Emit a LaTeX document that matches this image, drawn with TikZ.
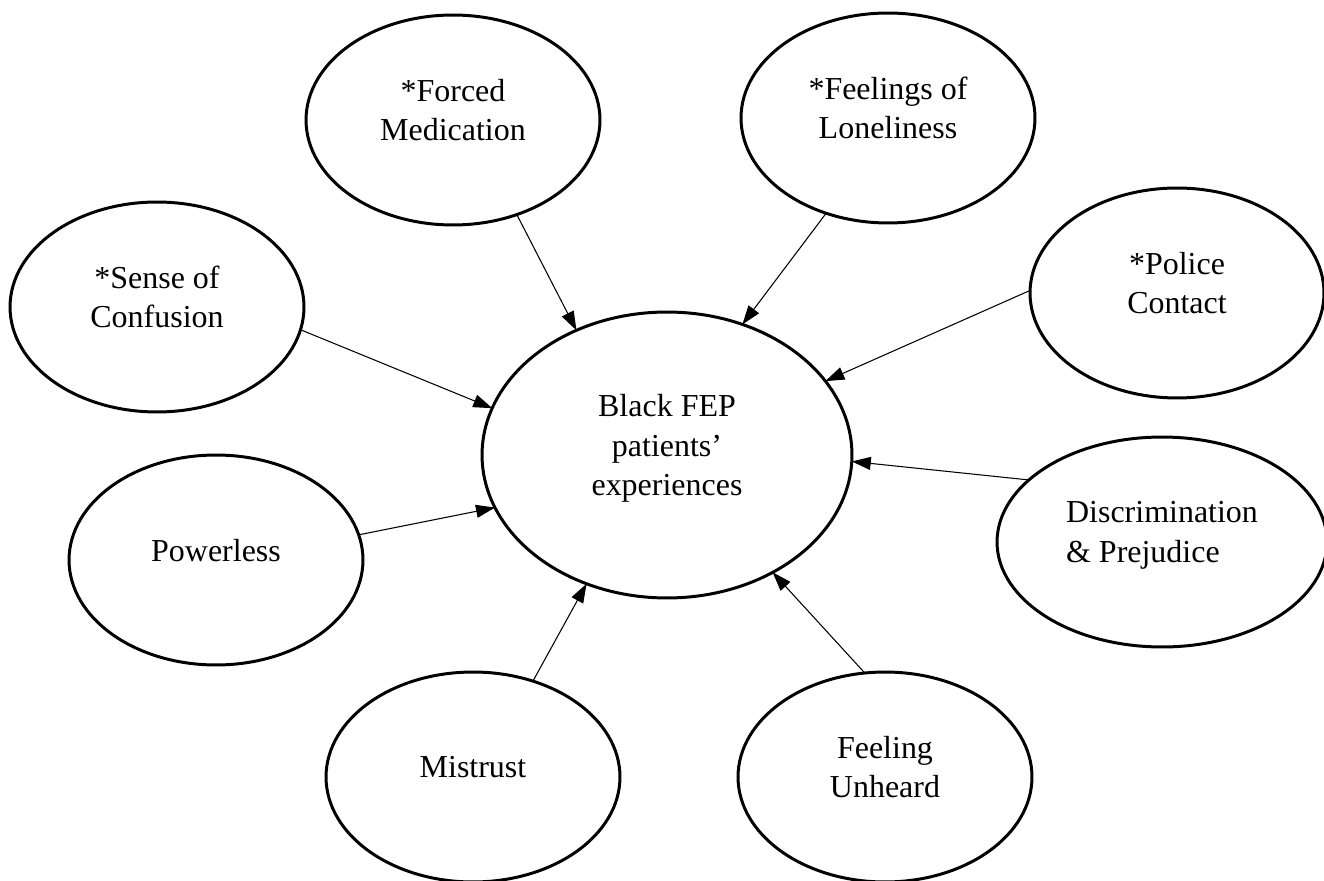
\documentclass[tikz,border=0pt]{standalone}
\usepackage{fontspec}
\setmainfont{Liberation Serif}
\usetikzlibrary{shapes.geometric, arrows.meta, positioning}
\tikzset{
  bubble/.style={
    ellipse, draw, line width=1.7pt, minimum width=5.88cm,
    minimum height=4.2cm, inner sep=0pt, outer sep=0pt, align=center,
    text depth=0.4cm, font=\fontsize{18.2}{22.4}\selectfont
  },
  hub/.style={bubble, minimum width=7.4cm, minimum height=5.72cm},
  wide/.style={bubble, minimum width=6.6cm, align=left},
  arr/.style={-{Triangle[length=0.38cm, width=0.26cm]}, line width=0.6pt}
}

\begin{document}
\begin{tikzpicture}[x=0.02cm, y=-0.02cm]
  \useasboundingbox (0,0) rectangle (1324,881);

  \node[hub] (exp) at (667,455) {Black FEP\\patients'\\experiences};

  \node[bubble] (force)    at (453,120)  {*Forced\\Medication};
  \node[bubble] (lonely)   at (888,118)  {*Feelings of\\Loneliness};
  \node[bubble] (confuse)  at (157,307)  {*Sense of\\Confusion};
  \node[bubble] (police)   at (1177,293) {*Police\\Contact};
  \node[bubble] (power)    at (216,560)  {Powerless};
  \node[wide]   (discrim)  at (1162,542) {Discrimination\\\& Prejudice};
  \node[bubble] (mistrust) at (473,777)  {Mistrust};
  \node[bubble] (unheard)  at (885,777)  {Feeling\\Unheard};

  \draw[arr] (force.-56)    -- (exp.126);
  \draw[arr] (lonely.-123)  -- (exp.60);
  \draw[arr] (police.179)   -- (exp.25);
  \draw[arr] (confuse.-9)   -- (exp.165);
  \draw[arr] (power.10)     -- (exp.197);
  \draw[arr] (discrim.155)  -- (exp.-2);
  \draw[arr] (mistrust.58)  -- (exp.-122);
  \draw[arr] (unheard.101)  -- (exp.-48);
\end{tikzpicture}
\end{document}
